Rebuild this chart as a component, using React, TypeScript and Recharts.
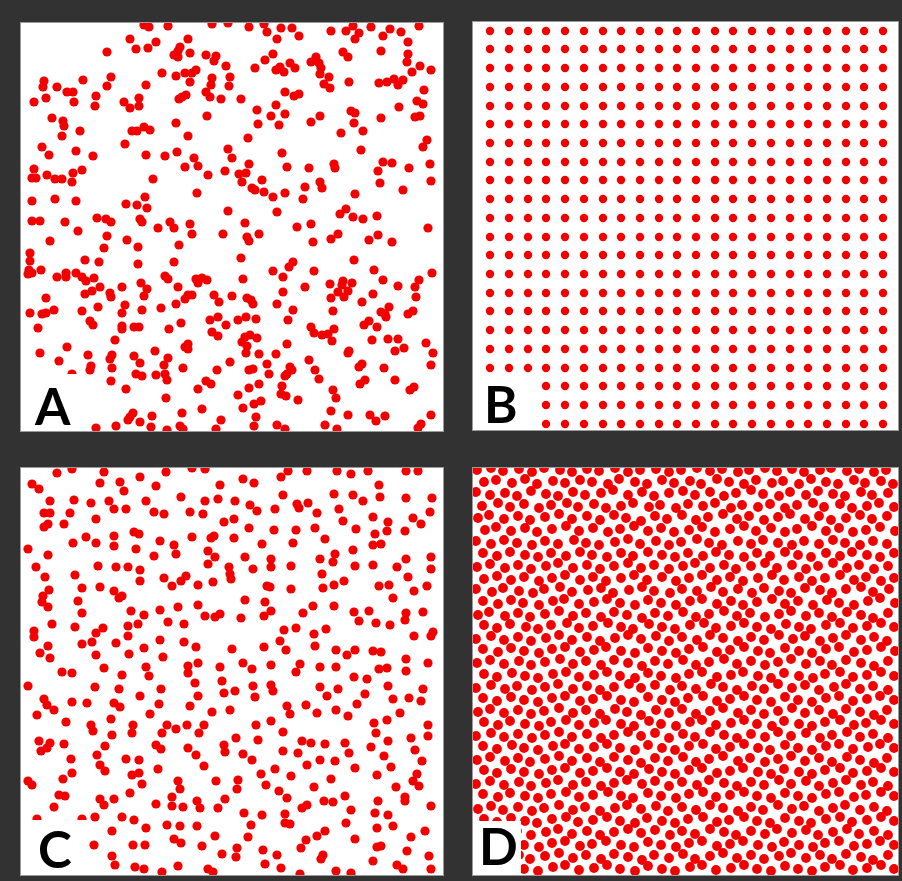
import React from 'react';
import { ScatterChart, Scatter, XAxis, YAxis } from 'recharts';

const RED = '#f20000';

// Panel A: clustered random points (panel-local units, origin top-left)
const A_POINTS: [number, number][] = [
[123,2],[128,4],[147,3],[191,1],[207,0],[109,16],[115,26],[127,25],[135,19],[167,16],[159,24],[157,28],[153,32],[157,34],[169,30],[185,32],[195,33],[193,38],[205,43],[86,29],[23,58],[22,64],[36,64],[62,57],[90,54],[86,63],[125,62],[141,50],[155,53],[164,50],[171,50],[175,47],[169,59],[191,55],[209,54],[190,62],[208,63],[185,69],[189,74],[200,76],[46,69],[52,69],[25,75],[13,79],[53,79],[75,73],[74,83],[103,79],[109,85],[118,75],[118,83],[158,76],[161,74],[165,72],[186,93],[31,95],[42,98],[43,103],[59,108],[41,113],[111,108],[116,108],[123,104],[129,107],[155,100],[167,113],[104,121],[21,124],[28,132],[55,128],[72,133],[125,132],[144,133],[156,129],[173,135],[177,143],[207,126],[211,135],[13,146],[11,155],[15,155],[26,152],[34,156],[41,156],[52,150],[51,159],[61,147],[132,156],[164,144],[187,152],[204,148],[176,170],[11,178],[34,176],[55,178],[105,181],[116,182],[124,174],[126,185],[207,188],[11,198],[19,198],[44,199],[76,195],[85,196],[90,199],[119,196],[121,199],[137,205],[149,199],[153,205],[169,201],
[228,4],[243,1],[246,9],[260,5],[256,16],[271,5],[278,13],[310,8],[325,8],[332,3],[338,10],[334,16],[350,4],[369,6],[362,13],[380,9],[398,3],[387,19],[360,28],[387,31],[386,39],[399,43],[410,47],[391,49],[403,67],[396,78],[402,81],[378,84],[394,94],[399,93],[360,95],[358,60],[366,59],[373,56],[377,62],[382,57],[328,59],[322,29],[327,34],[252,31],[244,37],[234,45],[255,47],[259,44],[263,49],[269,40],[274,45],[290,39],[295,34],[298,40],[300,45],[299,51],[308,54],[303,61],[309,65],[220,76],[264,69],[273,73],[278,71],[236,87],[255,82],[250,93],[264,91],[237,101],[258,102],[290,99],[299,93],[330,88],[334,90],[333,100],[320,110],[342,108],[227,115],[261,130],[266,144],[288,145],[313,141],[314,145],[340,127],[362,139],[371,140],[357,148],[359,160],[388,145],[409,141],[410,158],[406,117],[402,124],[382,167],[334,171],[218,151],[221,159],[225,150],[228,141],[241,157],[231,165],[234,167],[243,169],[252,174],[264,170],[284,164],[282,176],[299,159],[301,165],[256,189],[224,200],[276,204],[290,201],[319,191],[325,186],[332,194],[342,196],[356,193],[407,205],
[57,208],[86,213],[171,211],[202,211],[29,218],[83,225],[106,217],[117,224],[158,222],[9,230],[9,238],[8,247],[11,250],[7,251],[20,247],[64,237],[78,239],[117,241],[153,239],[36,254],[45,250],[45,254],[55,250],[61,254],[65,258],[73,255],[71,268],[64,271],[79,264],[89,270],[90,274],[101,264],[120,260],[126,266],[123,273],[144,253],[147,256],[157,264],[175,256],[177,260],[181,255],[186,257],[193,272],[198,279],[211,273],[164,276],[167,272],[171,272],[155,281],[25,275],[9,290],[21,291],[25,290],[33,287],[61,288],[77,284],[101,290],[104,282],[121,287],[140,285],[17,305],[69,298],[72,302],[101,303],[101,306],[113,304],[118,304],[148,306],[160,300],[189,297],[197,294],[205,302],[191,309],[197,313],[94,317],[46,324],[19,330],[38,338],[67,332],[70,343],[69,347],[91,332],[89,336],[91,345],[113,333],[119,340],[134,328],[147,335],[143,342],[144,351],[146,357],[162,345],[164,324],[167,321],[167,326],[209,339],[196,347],[135,352],[115,351],[121,353],[90,358],[105,366],[145,375],[177,366],[185,358],[190,361],[161,390],[181,386],[200,397],[195,406],[75,405],[95,403],[107,397],[109,394],[112,390],[119,399],[131,393],[130,404],[146,407],[159,403],[162,406],[51,351],
[226,214],[228,218],[238,211],[292,219],[310,216],[317,211],[348,217],[357,212],[371,219],[220,235],[252,248],[268,244],[272,239],[293,248],[333,237],[353,247],[411,250],[222,256],[262,254],[284,264],[262,269],[309,261],[321,262],[322,258],[331,260],[317,269],[327,268],[323,274],[310,275],[341,279],[352,271],[362,257],[377,263],[398,257],[394,264],[395,274],[226,275],[230,277],[232,281],[256,281],[272,287],[267,297],[312,288],[360,289],[365,294],[368,284],[364,291],[387,291],[392,288],[217,297],[225,294],[235,296],[290,304],[293,310],[301,312],[307,311],[311,318],[313,306],[343,302],[348,298],[356,304],[351,317],[367,316],[377,316],[374,328],[383,325],[405,320],[412,330],[410,342],[224,314],[229,312],[236,315],[221,319],[226,323],[225,330],[238,331],[255,331],[266,321],[246,341],[248,351],[228,347],[232,346],[264,353],[266,351],[269,344],[271,347],[261,363],[260,371],[265,373],[277,377],[288,337],[294,347],[298,356],[328,328],[327,330],[338,344],[341,341],[363,345],[374,357],[339,361],[344,357],[312,367],[315,375],[389,367],[393,364],[238,361],[228,365],[217,372],[240,378],[233,381],[222,385],[235,394],[233,403],[256,402],[264,406],[310,388],[327,392],[304,402],[316,406],[349,392],[355,398],[364,393],[410,392],[400,401],[397,405]
];

// Panel B: regular grid, column and row positions
const B_COLUMNS = [17,36,55,73,92,111,130,148,167,186,204,223,242,260,279,298,317,335,354,373,391,410];
const B_ROWS = [9,27,46,65,84,102,121,140,158,177,196,215,233,252,271,289,308,327,346,364,383,402];

// Panel C: evenly spread random points
const C_POINTS: [number, number][] = [
[36,5],[51,1],[83,4],[119,9],[145,4],[171,0],[184,1],[11,16],[18,21],[79,15],[99,14],[103,23],[135,18],[199,17],[29,33],[53,32],[70,35],[88,33],[125,33],[160,29],[184,33],[197,31],[23,45],[29,45],[23,59],[27,56],[43,56],[49,45],[75,51],[93,41],[105,41],[133,44],[143,46],[169,44],[182,46],[203,54],[65,69],[75,75],[93,68],[93,78],[113,64],[118,66],[115,81],[139,73],[153,77],[155,86],[133,88],[171,69],[190,70],[193,68],[187,83],[194,89],[187,96],[7,81],[27,87],[15,99],[24,109],[28,122],[22,128],[21,134],[27,139],[52,75],[54,107],[61,120],[57,133],[61,145],[77,98],[95,99],[107,99],[119,102],[119,113],[79,119],[93,123],[98,130],[101,128],[143,110],[151,118],[160,113],[165,108],[177,117],[192,114],[208,99],[209,106],[210,111],[31,156],[13,163],[13,169],[54,159],[75,165],[82,160],[71,174],[61,176],[95,175],[107,158],[107,168],[110,143],[123,147],[117,156],[139,142],[147,154],[157,139],[163,156],[177,137],[184,148],[194,149],[199,146],[139,172],[163,174],[175,179],[211,181],[27,178],[19,185],[29,190],[75,187],[108,186],[123,180],[142,189],[41,204],[51,205],[83,200],[125,199],[167,198],[177,195],[199,199],
[222,11],[233,15],[260,9],[267,3],[286,3],[316,3],[330,6],[347,3],[385,3],[397,3],[358,17],[262,27],[214,33],[229,37],[236,43],[254,41],[276,36],[278,40],[287,35],[296,45],[313,26],[318,41],[332,27],[342,33],[359,29],[385,30],[411,30],[213,51],[228,60],[253,62],[275,62],[294,60],[322,53],[335,61],[352,49],[367,54],[366,63],[392,50],[400,56],[409,44],[384,63],[213,70],[241,76],[272,75],[304,71],[354,66],[352,77],[360,76],[332,82],[224,89],[232,101],[250,91],[250,99],[270,98],[299,91],[312,94],[314,86],[301,106],[334,98],[352,97],[376,99],[385,91],[387,109],[410,89],[410,101],[246,118],[249,119],[270,121],[302,120],[313,117],[323,113],[358,118],[368,117],[372,130],[393,123],[406,118],[224,132],[244,134],[220,150],[243,148],[250,143],[282,145],[292,138],[313,138],[333,144],[338,153],[348,143],[355,155],[369,157],[385,145],[384,152],[402,144],[393,168],[410,168],[412,164],[263,162],[275,160],[293,166],[305,161],[259,173],[243,179],[265,182],[294,178],[315,182],[326,187],[334,182],[352,183],[360,184],[222,195],[231,201],[250,197],[279,196],[275,204],[299,199],[315,199],[385,191],[407,195],[358,201],[366,200],[385,203],
[101,207],[128,208],[167,205],[7,218],[74,219],[98,221],[119,228],[140,221],[174,215],[177,228],[201,213],[203,225],[23,231],[26,237],[33,242],[51,234],[66,235],[93,235],[99,239],[138,236],[129,246],[169,238],[191,244],[209,242],[16,247],[45,254],[70,257],[72,263],[90,251],[91,267],[112,257],[111,265],[146,257],[155,261],[166,257],[183,257],[178,265],[141,265],[18,273],[20,283],[26,280],[29,275],[43,276],[84,278],[135,277],[140,281],[167,280],[175,287],[203,277],[204,284],[50,291],[76,287],[79,297],[84,303],[105,291],[118,292],[111,307],[118,305],[121,316],[137,301],[183,298],[51,305],[42,311],[7,313],[11,317],[38,327],[44,328],[33,339],[79,331],[83,337],[93,331],[109,325],[135,336],[151,329],[151,338],[162,339],[157,313],[159,321],[176,333],[179,340],[197,340],[195,313],[204,331],[16,351],[61,351],[74,349],[101,349],[113,352],[125,360],[146,357],[159,358],[176,358],[91,363],[153,371],[160,375],[194,368],[73,377],[112,377],[124,377],[181,378],[201,386],[91,388],[94,397],[114,399],[123,401],[141,404],[157,398],[187,401],[192,404],
[333,209],[346,211],[214,223],[232,218],[234,229],[250,217],[252,223],[266,238],[269,246],[285,237],[296,245],[299,219],[306,228],[315,242],[317,221],[327,248],[336,236],[344,226],[367,218],[372,231],[388,230],[400,233],[402,221],[379,245],[366,252],[353,255],[355,265],[407,257],[407,268],[215,270],[235,257],[250,253],[262,264],[237,272],[281,273],[290,275],[304,276],[324,275],[328,285],[350,279],[367,273],[390,270],[394,282],[363,288],[401,293],[222,286],[231,292],[262,283],[277,285],[286,297],[299,292],[314,293],[334,300],[370,299],[240,306],[254,301],[270,308],[217,312],[216,321],[245,317],[258,323],[266,330],[310,311],[293,319],[356,307],[375,319],[396,306],[392,313],[398,318],[384,329],[384,333],[357,333],[410,338],[281,340],[286,337],[303,333],[312,334],[324,328],[330,342],[354,345],[367,347],[223,345],[241,347],[264,346],[264,355],[269,356],[230,357],[227,369],[325,355],[356,360],[372,358],[404,363],[390,369],[285,372],[296,368],[304,363],[334,371],[356,379],[360,378],[386,383],[280,380],[302,387],[300,391],[216,380],[215,389],[242,382],[256,387],[244,396],[260,400],[279,406],[315,403],[330,405],[352,393],[376,397],[382,401],[408,388],[410,401]
];

// Panel D: dense packed points
const D_POINTS: [number, number][] = [
[4,2],[18,0],[30,3],[46,1],[59,4],[71,0],[87,2],[99,4],[114,1],[126,3],[142,0],[155,4],[167,2],[183,1],[196,4],[208,2],[224,0],[237,3],[249,1],[265,4],[276,2],[292,0],[304,3],[319,1],[331,4],[347,2],[358,0],[374,3],[386,1],[401,4],[413,2],
[11,14],[23,12],[39,15],[52,11],[64,16],[80,13],[92,15],[107,12],[119,14],[135,16],[146,11],[162,14],[174,16],[189,12],[201,15],[217,13],[228,16],[244,11],[256,14],[271,16],[283,12],[299,15],[310,13],[326,16],[338,11],[353,14],[365,16],[381,12],[392,15],[408,13],[420,16],
[3,24],[17,27],[32,25],[44,28],[58,23],[73,26],[85,28],[100,24],[112,27],[128,25],[140,22],[155,27],[169,24],[181,28],[196,25],[210,23],[222,27],[237,24],[251,28],[263,25],[278,22],[290,26],[306,28],[317,24],[333,27],[345,23],[360,26],[372,28],[388,24],[399,27],[415,25],
[9,38],[25,35],[37,39],[51,36],[66,40],[78,37],[94,35],[105,39],[121,36],[133,40],[148,38],[160,35],[176,39],[187,37],[203,40],[215,36],[230,38],[242,35],[258,40],[269,37],[285,39],[297,36],[312,40],[324,37],[340,35],[351,39],[367,36],[379,40],[394,38],[406,35],[421,39],
[5,50],[16,47],[31,51],[45,48],[57,52],[72,49],[86,46],[99,51],[114,48],[127,52],[141,47],[153,50],[168,53],[182,48],[194,51],[209,47],[223,52],[235,49],[250,46],[264,51],[276,48],[291,52],[305,49],[317,46],[332,51],[346,48],[358,52],[373,50],[387,47],[399,51],[414,48],
[12,62],[23,59],[38,63],[52,60],[64,64],[79,61],[93,58],[106,63],[120,60],[135,64],[147,61],[161,58],[175,63],[188,60],[201,64],[216,62],[229,59],[242,64],[257,61],[271,58],[283,63],[298,60],[312,64],[324,61],[339,58],[353,63],[366,60],[380,64],[393,62],[407,59],[422,63],
[3,73],[18,76],[31,72],[44,75],[59,77],[72,73],[85,76],[101,72],[113,75],[126,77],[142,74],[155,71],[167,76],[183,73],[196,77],[208,74],[224,71],[236,75],[249,77],[265,73],[278,76],[290,72],[305,75],[319,77],[331,73],[346,76],[360,72],[372,75],[387,77],[400,73],[414,76],
[10,85],[24,88],[37,84],[52,87],[65,89],[78,85],[93,88],[107,84],[119,87],[134,89],[148,85],[160,88],[175,84],[189,87],[202,89],[215,85],[230,88],[243,84],[256,87],[271,89],[284,85],[297,88],[312,84],[325,87],[338,89],[353,85],[367,88],[379,84],[394,87],[407,89],[421,85],
[4,99],[17,96],[32,100],[45,97],[58,101],[73,98],[85,95],[100,100],[114,97],[127,101],[141,98],[155,95],[168,100],[181,97],[196,101],[210,98],[222,95],[237,100],[251,97],[263,101],[278,98],[292,95],[304,100],[319,97],[333,101],[345,98],[360,95],[374,100],[386,97],[401,101],[415,98],
[11,111],[24,108],[38,112],[51,109],[66,113],[79,110],[92,107],[107,112],[120,109],[133,113],[148,110],[161,107],[174,112],[189,109],[203,113],[216,110],[229,107],[244,112],[257,109],[270,113],[285,110],[299,107],[311,112],[326,109],[339,113],[352,110],[367,107],[381,112],[393,109],[408,113],[421,110],
[3,121],[19,124],[30,120],[46,123],[60,125],[71,121],[87,119],[99,124],[115,122],[128,120],[140,125],[156,122],[169,119],[181,123],[197,125],[209,121],[224,123],[238,119],[250,124],[265,121],[279,125],[291,120],[306,123],[318,125],[332,120],[347,122],[359,125],[373,121],[388,119],[400,124],[416,121],
[10,133],[25,136],[38,132],[50,135],[66,137],[80,133],[91,131],[106,136],[121,134],[134,131],[147,135],[162,137],[175,132],[188,135],[203,137],[217,133],[229,131],[244,136],[258,133],[270,137],[284,134],[299,131],[312,136],[325,133],[340,137],[354,132],[366,135],[381,137],[395,133],[407,130],[422,135],
[5,147],[16,144],[32,148],[45,145],[57,149],[72,146],[86,143],[100,148],[113,145],[128,149],[141,144],[154,147],[169,150],[182,145],[195,148],[210,144],[223,149],[236,146],[251,143],[264,148],[277,145],[292,149],[306,146],[318,143],[333,148],[346,145],[359,149],[374,144],[388,147],[400,150],[415,145],
[11,157],[24,160],[37,156],[53,159],[65,161],[78,157],[94,155],[106,160],[120,158],[135,155],[148,159],[160,161],[176,156],[189,159],[202,161],[217,157],[231,155],[243,160],[258,158],[271,155],[284,159],[298,161],[313,156],[326,159],[338,161],[353,157],[367,155],[380,160],[394,158],[408,155],[421,159],
[3,171],[18,168],[31,172],[45,169],[58,173],[73,170],[86,167],[99,172],[114,169],[127,173],[142,170],[155,167],[168,171],[183,168],[196,173],[209,169],[224,172],[237,167],[250,170],[265,173],[278,169],[291,172],[306,167],[320,171],[332,168],[347,173],[360,170],[373,167],[388,172],[401,169],[414,173],
[10,181],[25,184],[38,180],[51,183],[66,185],[79,181],[92,179],[107,184],[121,182],[133,179],[148,183],[162,185],[175,180],[189,183],[203,185],[216,181],[230,179],[244,184],[257,182],[271,179],[285,183],[297,185],[312,180],[326,183],[339,185],[353,181],[366,179],[381,184],[394,182],[408,179],[422,183],
[4,195],[17,192],[31,196],[46,193],[58,197],[72,194],[87,191],[100,196],[113,193],[128,197],[141,192],[155,195],[169,198],[182,193],[195,196],[210,192],[223,197],[236,194],[251,191],[264,196],[278,193],[292,197],[305,194],[318,191],[333,196],[347,193],[359,197],[373,192],[388,195],[401,198],[415,193],
[11,206],[24,209],[39,205],[52,208],[65,210],[80,206],[93,204],[106,209],[121,207],[134,204],[147,208],[162,210],[175,205],[188,208],[203,210],[216,206],[229,204],[244,209],[258,207],[270,204],[285,208],[298,210],[311,205],[326,208],[340,210],[352,206],[367,204],[380,209],[394,207],[408,204],[421,208],
[3,220],[18,217],[32,221],[44,218],[59,222],[72,219],[85,216],[100,221],[114,218],[127,222],[141,219],[156,216],[168,220],[182,217],[197,222],[209,218],[223,221],[238,216],[250,219],[264,222],[279,218],[291,221],[305,216],[319,220],[332,217],[346,222],[361,219],[373,216],[387,221],[400,218],[415,222],
[10,230],[24,233],[38,229],[51,232],[65,234],[79,230],[92,228],[107,233],[120,231],[134,228],[148,232],[161,234],[175,229],[189,232],[202,234],[215,230],[230,228],[244,233],[257,231],[271,228],[284,232],[298,234],[312,229],[325,232],[339,234],[353,230],[366,228],[380,233],[394,231],[407,228],[421,232],
[5,244],[17,241],[31,245],[45,242],[58,246],[71,243],[86,240],[100,245],[113,242],[127,246],[142,241],[154,244],[168,247],[183,242],[196,245],[209,241],[223,246],[237,243],[250,240],[265,245],[278,242],[291,246],[305,243],[319,240],[332,245],[346,242],[360,246],[373,241],[387,244],[401,247],[414,242],
[11,254],[25,257],[37,253],[52,256],[66,258],[78,254],[93,252],[106,257],[121,255],[133,252],[148,256],[161,258],[176,253],[188,256],[203,258],[217,254],[229,252],[243,257],[258,255],[271,252],[284,256],[299,258],[311,253],[326,256],[339,258],[352,254],[367,252],[381,257],[393,255],[408,252],[421,256],
[3,268],[18,265],[31,269],[45,266],[59,270],[72,267],[86,264],[99,269],[114,266],[128,270],[141,267],[155,264],[168,268],[182,265],[196,270],[210,266],[222,269],[237,264],[251,267],[264,270],[278,266],[292,269],[305,264],[318,268],[333,265],[347,270],[359,267],[374,264],[387,269],[400,266],[415,270],
[10,278],[24,281],[39,277],[51,280],[65,282],[80,278],[92,276],[106,281],[121,279],[134,276],[147,280],[162,282],[175,277],[189,280],[202,282],[216,278],[230,276],[243,281],[257,279],[271,276],[285,280],[297,282],[312,277],[325,280],[339,282],[353,278],[366,276],[380,281],[395,279],[407,276],[421,280],
[4,292],[17,289],[32,293],[45,290],[57,294],[72,291],[86,288],[99,293],[114,290],[127,294],[141,289],[155,292],[168,295],[182,290],[195,293],[210,289],[223,294],[236,291],[250,288],[265,293],[277,290],[292,294],[305,291],[318,288],[332,293],[346,290],[359,294],[374,289],[387,292],[401,295],[414,290],
[11,302],[24,305],[38,301],[51,304],[66,306],[79,302],[92,300],[107,305],[120,303],[134,300],[147,304],[161,306],[176,301],[189,304],[202,306],[216,302],[229,300],[244,305],[257,303],[270,300],[285,304],[298,306],[311,301],[326,304],[339,306],[352,302],[367,300],[380,305],[394,303],[408,300],[421,304],
[3,316],[17,313],[31,317],[46,314],[58,318],[73,315],[85,312],[100,317],[113,314],[128,318],[141,315],[154,312],[169,316],[182,313],[196,318],[209,314],[224,317],[236,312],[251,315],[264,318],[278,314],[291,317],[306,312],[318,316],[333,313],[346,318],[360,315],[373,312],[388,317],[400,314],[415,318],
[10,326],[25,329],[37,325],[52,328],[65,330],[78,326],[93,324],[106,329],[120,327],[135,324],[148,328],[160,330],[175,325],[188,328],[203,330],[216,326],[230,324],[243,329],[257,327],[271,324],[284,328],[298,330],[312,325],[325,328],[339,330],[353,326],[366,324],[381,329],[393,327],[408,324],[421,328],
[5,341],[18,338],[30,342],[45,339],[59,343],[71,340],[86,337],[100,342],[112,339],[127,343],[142,340],[154,337],[168,341],[183,338],[195,343],[209,339],[223,342],[237,337],[250,340],[265,343],[278,339],[290,342],[305,337],[319,341],[331,338],[346,343],[360,340],[372,337],[387,342],[401,339],[414,343],
[11,351],[24,354],[38,350],[52,353],[64,355],[79,351],[93,349],[105,354],[120,352],[134,349],[147,353],[162,355],[174,350],[189,353],[202,355],[215,351],[230,349],[244,354],[256,352],[271,349],[284,353],[297,355],[312,350],[326,353],[338,355],[353,351],[367,349],[379,354],[394,352],[408,349],[421,353],
[3,365],[17,362],[32,366],[44,363],[58,367],[73,364],[85,361],[99,366],[114,363],[127,367],[141,364],[155,361],[168,365],[182,362],[197,367],[209,363],[222,366],[237,361],[251,364],[263,367],[278,363],[292,366],[304,361],[319,365],[333,362],[345,367],[360,364],[374,361],[386,366],[401,363],[415,367],
[10,375],[23,378],[38,374],[51,377],[66,379],[79,375],[92,373],[107,378],[119,376],[133,373],[148,377],[161,379],[175,374],[188,377],[203,379],[216,375],[229,373],[244,378],[257,376],[270,373],[285,377],[299,379],[311,374],[326,377],[340,379],[352,375],[366,373],[381,378],[394,376],[407,373],[421,377],
[4,389],[18,386],[31,390],[46,387],[57,391],[72,388],[86,385],[100,390],[113,387],[128,391],[141,386],[155,389],[169,392],[181,387],[196,390],[210,386],[222,391],[237,388],[250,385],[264,390],[278,387],[291,391],[306,388],[318,385],[333,390],[347,387],[359,391],[373,386],[388,389],[400,392],[415,387],
[11,399],[24,402],[39,398],[51,401],[65,403],[80,399],[92,397],[106,402],[121,400],[134,397],[147,401],[162,403],[175,398],[189,401],[202,403],[217,399],[229,397],[243,402],[258,400],[271,397],[284,401],[298,403],[312,398],[325,401],[339,403],[352,399],[367,397],[380,402],[394,400],[408,397],[421,401]
];

const PANEL_LABELS = ['A', 'B', 'C', 'D'];

type Pt = { x: number; y: number };
const toData = (pts: [number, number][]): Pt[] => pts.map(([x, y]) => ({ x, y }));
const B_POINTS: Pt[] = B_ROWS.flatMap((y) => B_COLUMNS.map((x) => ({ x, y })));

interface PanelDef {
  left: number; top: number; width: number; height: number;
  data: Pt[]; r: number; label: string;
  box: { w: number; y: number };
  text: { x: number; y: number };
}

const PANELS: PanelDef[] = [
  { left: 21, top: 23, width: 422, height: 408, data: toData(A_POINTS), r: 4.6, label: PANEL_LABELS[0], box: { w: 67, y: 351 }, text: { x: 14, y: 402 } },
  { left: 473, top: 22, width: 425, height: 408, data: B_POINTS, r: 4.2, label: PANEL_LABELS[1], box: { w: 60, y: 355 }, text: { x: 11, y: 401 } },
  { left: 21, top: 468, width: 422, height: 407, data: toData(C_POINTS), r: 4.6, label: PANEL_LABELS[2], box: { w: 67, y: 352 }, text: { x: 17, y: 400 } },
  { left: 473, top: 468, width: 425, height: 407, data: toData(D_POINTS), r: 4.9, label: PANEL_LABELS[3], box: { w: 48, y: 353 }, text: { x: 6, y: 397 } },
];

function Panel({ left, top, width, height, data, r }: PanelDef) {
  return (
    <div style={{ position: 'absolute', left, top, width, height, background: '#ffffff', overflow: 'hidden', boxShadow: '0 0 0 1px #9a9a9a' }}>
      <ScatterChart width={width} height={height} margin={{ top: 0, right: 0, bottom: 0, left: 0 }}>
        <XAxis type="number" dataKey="x" domain={[0, width]} hide height={0} />
        <YAxis type="number" dataKey="y" domain={[0, height]} reversed hide width={0} />
        <Scatter
          data={data}
          isAnimationActive={false}
          shape={(p: any) => <circle cx={p.cx} cy={p.cy} r={r} fill={RED} />}
        />
      </ScatterChart>
    </div>
  );
}

export default function App() {
  return (
    <div style={{ position: 'absolute', left: 0, top: 0, width: 902, height: 881, background: '#323232', overflow: 'hidden' }}>
      {PANELS.map((p) => <Panel key={p.label} {...p} />)}
      <svg width={902} height={881} style={{ position: 'absolute', left: 0, top: 0, pointerEvents: 'none' }}>
        {PANELS.map((p) => (
          <g key={p.label}>
            <rect x={p.left} y={p.top + p.box.y} width={p.box.w} height={p.height - p.box.y} fill="#ffffff" />
            <text x={p.left + p.text.x} y={p.top + p.text.y} fontFamily="Lato, 'Open Sans', sans-serif" fontWeight={700} fontSize={51} fill="#000">
              {p.label}
            </text>
          </g>
        ))}
      </svg>
    </div>
  );
}
